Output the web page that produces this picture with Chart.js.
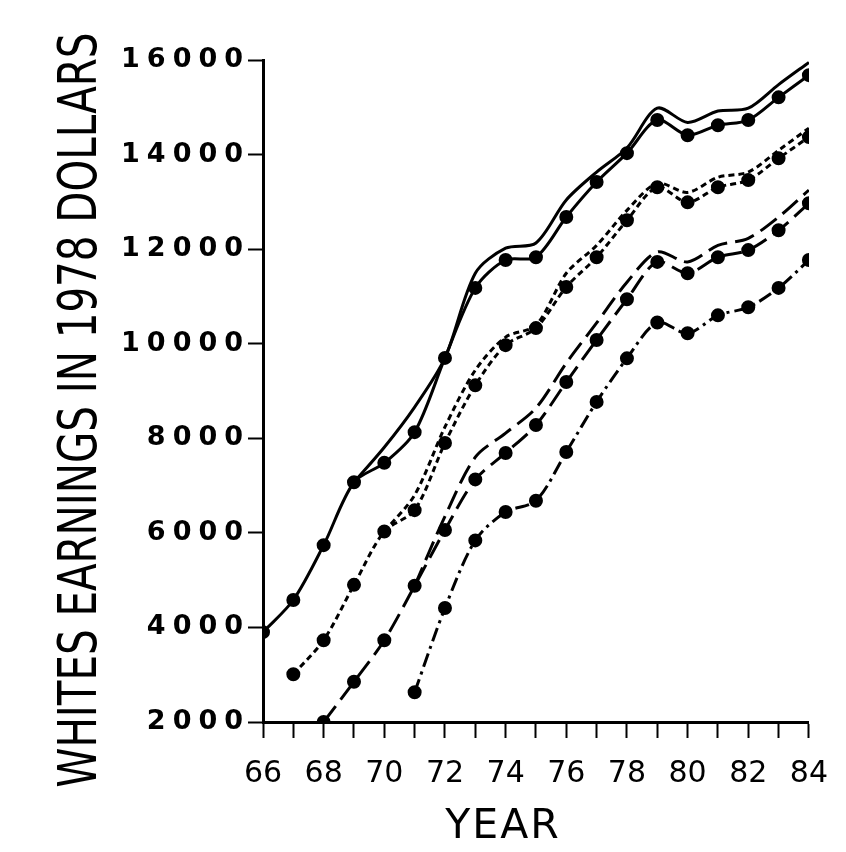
<!DOCTYPE html>
<html>
<head>
<meta charset="utf-8">
<script src="https://cdn.jsdelivr.net/npm/chart.js@4.4.1/dist/chart.umd.min.js"></script>
<style>
  html, body { margin: 0; padding: 0; background: #fff; }
  #wrap { width: 846px; height: 852px; }
</style>
</head>
<body>
<div id="wrap"><canvas id="chart" width="846" height="852"></canvas></div>
<script>
// Earnings of white cohorts, 1978 dollars
// each pair: a lower line with dots and an upper line without

const years = [66, 67, 68, 69, 70, 71, 72, 73, 74, 75, 76, 77, 78, 79, 80, 81, 82, 83, 84]
const yTicks = [2000, 4000, 6000, 8000, 10000, 12000, 14000, 16000]

// solid lines (cohort entering 66)
const solidDotsStart = 66
const solidDots = [3900, 4580, 5740, 7070, 7480, 8130, 9700, 11180, 11770, 11830, 12680, 13420, 14030, 14730, 14410, 14620, 14730, 15210, 15680]
const solidUpperStart = 69
const solidUpper = [7070, 7810, 8660, 9700, 11490, 12020, 12130, 13040, 13630, 14140, 14980, 14680, 14920, 14980, 15480, 15950]

// short dashes (cohort entering 67)
const shortDotsStart = 67
const shortDots = [3010, 3730, 4900, 6030, 6480, 7900, 9120, 9970, 10330, 11200, 11830, 12610, 13310, 12990, 13310, 13460, 13920, 14370]
const shortUpperStart = 70
const shortUpper = [6030, 6800, 8240, 9440, 10140, 10390, 11490, 12080, 12820, 13390, 13200, 13520, 13630, 14090, 14560]

// long dashes (cohort entering 68)
const longDotsStart = 68
const longDots = [2000, 2850, 3730, 4880, 6060, 7130, 7690, 8280, 9190, 10080, 10940, 11730, 11490, 11830, 11980, 12400, 12970]
const longUpperStart = 71
const longUpper = [4880, 6350, 7600, 8110, 8640, 9590, 10440, 11300, 11940, 11730, 12080, 12230, 12680, 13250]

// dash-dot (cohort entering 71)
const dashDotStart = 71
const dashDot = [2630, 4410, 5840, 6440, 6680, 7710, 8770, 9690, 10450, 10220, 10600, 10770, 11180, 11770]

function toPoints(start, values) {
  return values.map((v, i) => ({ x: start + i, y: v }))
}

function series(label, start, values, dash, dots) {
  return {
    label: label,
    data: toPoints(start, values),
    borderColor: '#000',
    backgroundColor: '#000',
    borderWidth: 3,
    borderDash: dash,
    tension: 0.3,
    pointRadius: dots ? 5.5 : 0,
    pointBackgroundColor: '#000',
    pointBorderColor: '#000',
    fill: false
  }
}

// letter spacing for y tick labels, squeezed y title, small title offsets
const axisTweaks = {
  id: 'axisTweaks',
  afterLayout(chart) {
    const y = chart.scales.y
    const x = chart.scales.x
    if (!y._tweaked) {
      const yLabels = y.drawLabels
      y.drawLabels = function (area) {
        const ctx = this.ctx
        ctx.save()
        ctx.letterSpacing = '7px'
        ctx.translate(4, 0)
        yLabels.call(this, area)
        ctx.restore()
      }
      const yTitle = y.drawTitle
      y.drawTitle = function () {
        const ctx = this.ctx
        const opts = this.options.title
        ctx.save()
        ctx.font = Chart.helpers.toFont(opts.font).string
        const w = ctx.measureText(opts.text).width
        const k = 755 / w
        const cy = (this.top + this.bottom) / 2
        ctx.translate(0, cy + 19)
        ctx.scale(1, k)
        ctx.translate(0, -cy)
        yTitle.call(this)
        ctx.restore()
      }
      y._tweaked = true
    }
    if (!x._tweaked) {
      const xTitle = x.drawTitle
      x.drawTitle = function () {
        const ctx = this.ctx
        ctx.save()
        ctx.letterSpacing = '2px'
        ctx.translate(-33, 0)
        xTitle.call(this)
        ctx.restore()
      }
      x._tweaked = true
    }
  }
}

const config = {
  type: 'line',
  data: {
    datasets: [
      series('Cohort 66 upper', solidUpperStart, solidUpper, [], false),
      series('Cohort 66', solidDotsStart, solidDots, [], true),
      series('Cohort 67 upper', shortUpperStart, shortUpper, [6, 4], false),
      series('Cohort 67', shortDotsStart, shortDots, [6, 4], true),
      series('Cohort 68 upper', longUpperStart, longUpper, [20, 8], false),
      series('Cohort 68', longDotsStart, longDots, [20, 8], true),
      series('Cohort 71', dashDotStart, dashDot, [14, 5, 3, 5], true)
    ]
  },
  options: {
    responsive: false,
    animation: false,
    layout: {
      padding: { left: 0, right: 36, top: 60, bottom: 0 }
    },
    plugins: {
      legend: { display: false },
      tooltip: { enabled: false }
    },
    scales: {
      x: {
        type: 'linear',
        min: years[0],
        max: years[years.length - 1],
        afterFit: function (scale) { scale.height = 130 },
        border: { display: true, color: '#000', width: 3 },
        grid: {
          drawOnChartArea: false,
          drawTicks: true,
          tickLength: 16,
          tickWidth: 2,
          color: '#000'
        },
        ticks: {
          stepSize: 1,
          autoSkip: false,
          maxRotation: 0,
          padding: 18,
          color: '#000',
          font: { family: 'DejaVu Sans', size: 30 },
          callback: function (v) { return v % 2 === 0 ? String(v) : '' }
        },
        title: {
          display: true,
          text: 'YEAR',
          color: '#000',
          font: { family: 'DejaVu Sans', size: 41 },
          padding: { top: 0, bottom: 0 }
        }
      },
      y: {
        type: 'linear',
        min: yTicks[0],
        max: yTicks[yTicks.length - 1],
        afterFit: function (scale) { scale.width = 263 },
        afterBuildTicks: function (scale) {
          scale.ticks = yTicks.map(v => ({ value: v }))
        },
        border: { display: true, color: '#000', width: 3 },
        grid: {
          drawOnChartArea: false,
          drawTicks: true,
          tickLength: 15,
          tickWidth: 2,
          color: '#000'
        },
        ticks: {
          padding: 2,
          color: '#000',
          font: { family: 'DejaVu Sans', size: 27, weight: 'bold' },
          callback: function (v) { return String(v) }
        },
        title: {
          display: true,
          text: 'WHITES EARNINGS IN 1978 DOLLARS',
          color: '#000',
          font: { family: 'DejaVu Sans', size: 54 },
          padding: { top: 50, bottom: 0 }
        }
      }
    }
  },
  plugins: [axisTweaks]
}

const chart = new Chart(document.getElementById('chart'), config)
</script>
</body>
</html>
